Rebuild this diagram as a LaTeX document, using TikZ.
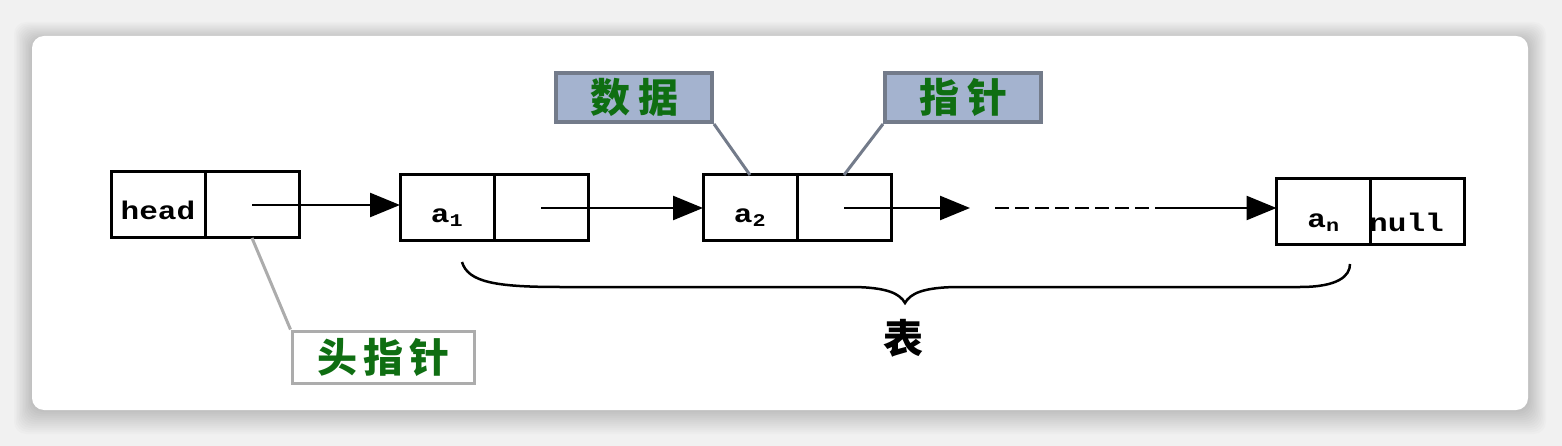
\documentclass[tikz,border=0pt]{standalone}
\usepackage{fontspec}
\setmonofont{Liberation Mono}[FakeStretch=1.22]
\newfontfamily\cjk{Noto Sans CJK SC}
\usetikzlibrary{positioning,arrows.meta,calc}
\definecolor{labfill}{HTML}{A4B3CF}
\definecolor{labdraw}{HTML}{737B8A}
\definecolor{labtext}{HTML}{0F6E12}
\definecolor{pagebg}{HTML}{F1F1F1}
\newcommand{\listnode}[5]{
	\node[cell] (#1_d) at (#2,#3) {#4};
	\node[cell, right=0pt of #1_d] (#1_p) {#5};
}
\newcommand{\celltext}[2]{\smash{\raisebox{#1}{#2}}}
\begin{document}
\begin{tikzpicture}[x=1pt,y=-1pt,line join=miter]
		\tikzstyle{cell}=[draw, line width=3pt, rectangle, minimum width=94pt, minimum height=66pt, inner sep=0pt, outer sep=0pt, font=\ttfamily\bfseries\fontsize{25.5}{25.5}\selectfont];
		\tikzstyle{link}=[line width=2.5pt, -{Triangle[length=30pt,width=24pt]}];
		\tikzstyle{lab}=[draw=labdraw, line width=4pt, fill=labfill, minimum width=156pt, minimum height=49pt, inner sep=0pt, font=\cjk\bfseries\fontsize{40}{40}\selectfont, text=labtext];
		\tikzstyle{leader}=[line width=3pt, labdraw];
		
		\useasboundingbox (0,0) rectangle (1562,446);
		\fill[pagebg] (0,0) rectangle (1562,446);
		\foreach \i in {1,...,12}
			\fill[black, opacity=0.014, rounded corners=12pt] (32-\i*1.5,36-\i*1.5+4) rectangle (1528+\i*1.5,410+\i*2);
		\fill[white, rounded corners=12pt] (32,36) rectangle (1528,410);
		
		% nodes of the list
		\listnode{head}{158}{205}{\celltext{-15pt}{head}}{}
		\listnode{a1}{447}{208}{\celltext{-15pt}{a\textsubscript{1}}}{}
		\listnode{a2}{750}{208}{\celltext{-15pt}{a\textsubscript{2}}}{}
		\listnode{an}{1323.5}{211.5}{\celltext{-16.5pt}{a\textsubscript{n}}}{\hspace*{-22pt}\celltext{-20.5pt}{null}}
		
		\coordinate (dots_a) at (970,208);
		\coordinate (dots_s) at (995,208);
		\coordinate (dots_e) at (1160,208);
		\draw[link] (head_p.center) -- (head_p.center -| a1_d.west);
		\draw[link] (a1_p.center) -- (a2_d.west);
		\draw[link] (a2_p.center) -- (dots_a);
		\draw[line width=2.5pt, dash pattern=on 14pt off 6pt] (dots_s) -- (dots_e);
		\draw[link] (dots_e) -- (dots_e -| an_d.west);
		
		% labels
		\node[lab] (lab_data) at (634,97.5) {数\hspace{8pt}据};
		\node[lab] (lab_ptr) at (963,97.5) {指\hspace{8pt}针};
		\node[lab, draw=gray!65, fill=white, line width=3pt, minimum width=182pt, minimum height=52pt] (lab_head) at (383,357) {头\hspace{6pt}指\hspace{6pt}针};
		\draw[leader] (lab_data.south east) -- (a2_d.north);
		\draw[leader] (lab_ptr.south west) -- (a2_p.north);
		\draw[line width=3pt, gray!65] (head_p.south) -- (lab_head.north west);
		
		% brace
		\coordinate (br_l) at (462,262);
		\coordinate (br_r) at (1350,264);
		\node[font=\cjk\bfseries\fontsize{40}{40}\selectfont] (tbl) at (903,338) {表};
		\draw[line width=2.5pt] (br_l) .. controls (468,282) and (495,287) .. (560,287) -- (850,287) .. controls (888,287) and (900,294) .. (905,303) .. controls (910,294) and (922,287) .. (960,287) -- (1300,287) .. controls (1338,287) and (1350,276) .. (br_r);
\end{tikzpicture}
\end{document}
